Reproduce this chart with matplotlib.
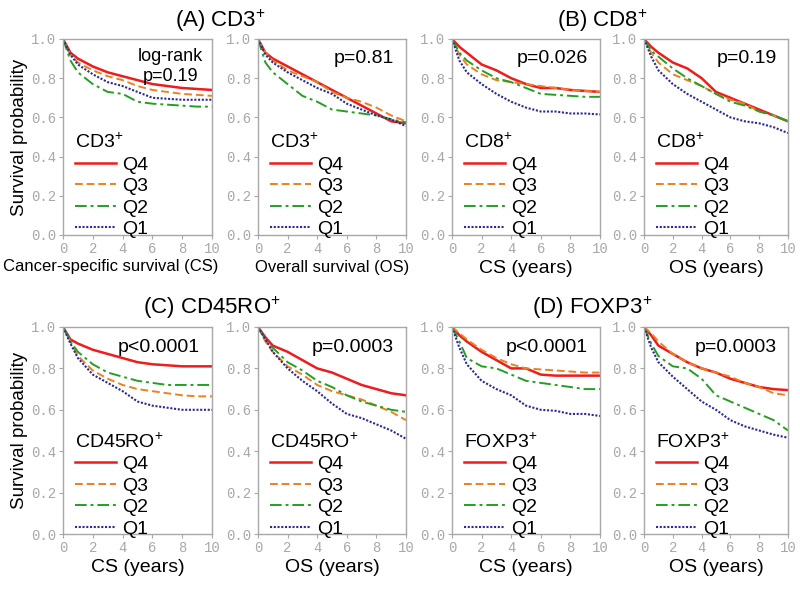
import matplotlib.pyplot as plt

plt.rcParams['font.family'] = ['Liberation Sans', 'DejaVu Sans']

# follow-up time points (years)
years = [0, 0.5, 1, 2, 3, 4, 5, 6, 7, 8, 9, 10]

# (A) CD3+ cancer-specific survival
a_cs_q4 = [1.0, 0.93, 0.90, 0.86, 0.83, 0.81, 0.79, 0.77, 0.76, 0.75, 0.745, 0.74]
a_cs_q3 = [1.0, 0.92, 0.88, 0.84, 0.81, 0.79, 0.76, 0.74, 0.73, 0.72, 0.715, 0.71]
a_cs_q2 = [1.0, 0.89, 0.83, 0.77, 0.73, 0.72, 0.68, 0.67, 0.665, 0.66, 0.655, 0.655]
a_cs_q1 = [1.0, 0.92, 0.87, 0.82, 0.78, 0.76, 0.73, 0.70, 0.695, 0.69, 0.69, 0.69]
# (A) CD3+ overall survival
a_os_q4 = [1.0, 0.93, 0.90, 0.86, 0.82, 0.78, 0.74, 0.70, 0.66, 0.62, 0.58, 0.57]
a_os_q3 = [1.0, 0.93, 0.89, 0.84, 0.81, 0.78, 0.73, 0.70, 0.68, 0.65, 0.61, 0.58]
a_os_q2 = [1.0, 0.88, 0.83, 0.77, 0.71, 0.68, 0.64, 0.63, 0.62, 0.61, 0.59, 0.575]
a_os_q1 = [1.0, 0.92, 0.88, 0.83, 0.79, 0.75, 0.72, 0.67, 0.64, 0.61, 0.59, 0.555]

# (B) CD8+
b_cs_q4 = [1.0, 0.96, 0.93, 0.87, 0.84, 0.80, 0.77, 0.75, 0.75, 0.74, 0.735, 0.73]
b_cs_q3 = [1.0, 0.92, 0.87, 0.82, 0.79, 0.78, 0.77, 0.76, 0.75, 0.74, 0.735, 0.73]
b_cs_q2 = [1.0, 0.93, 0.89, 0.84, 0.80, 0.78, 0.75, 0.72, 0.715, 0.71, 0.705, 0.705]
b_cs_q1 = [1.0, 0.89, 0.83, 0.77, 0.72, 0.68, 0.65, 0.63, 0.63, 0.62, 0.62, 0.615]
b_os_q4 = [1.0, 0.96, 0.93, 0.88, 0.85, 0.80, 0.73, 0.70, 0.67, 0.64, 0.61, 0.58]
b_os_q3 = [1.0, 0.93, 0.88, 0.82, 0.79, 0.76, 0.72, 0.69, 0.67, 0.63, 0.61, 0.58]
b_os_q2 = [1.0, 0.94, 0.91, 0.85, 0.80, 0.76, 0.72, 0.68, 0.66, 0.63, 0.61, 0.58]
b_os_q1 = [1.0, 0.91, 0.84, 0.77, 0.72, 0.68, 0.64, 0.60, 0.58, 0.57, 0.55, 0.52]

# (C) CD45RO+
c_cs_q4 = [1.0, 0.94, 0.92, 0.89, 0.87, 0.85, 0.83, 0.82, 0.815, 0.81, 0.81, 0.81]
c_cs_q3 = [1.0, 0.93, 0.86, 0.79, 0.75, 0.72, 0.70, 0.69, 0.68, 0.67, 0.665, 0.665]
c_cs_q2 = [1.0, 0.93, 0.88, 0.82, 0.78, 0.76, 0.74, 0.73, 0.72, 0.72, 0.72, 0.72]
c_cs_q1 = [1.0, 0.92, 0.85, 0.77, 0.73, 0.69, 0.64, 0.62, 0.61, 0.60, 0.60, 0.60]
c_os_q4 = [1.0, 0.95, 0.91, 0.88, 0.84, 0.80, 0.78, 0.75, 0.72, 0.70, 0.68, 0.67]
c_os_q3 = [1.0, 0.93, 0.88, 0.81, 0.77, 0.72, 0.69, 0.67, 0.65, 0.62, 0.59, 0.55]
c_os_q2 = [1.0, 0.94, 0.90, 0.83, 0.79, 0.74, 0.71, 0.67, 0.64, 0.62, 0.60, 0.59]
c_os_q1 = [1.0, 0.94, 0.88, 0.80, 0.74, 0.69, 0.63, 0.58, 0.56, 0.53, 0.50, 0.46]

# (D) FOXP3+
d_cs_q4 = [1.0, 0.96, 0.93, 0.88, 0.84, 0.80, 0.80, 0.77, 0.765, 0.765, 0.765, 0.765]
d_cs_q3 = [1.0, 0.97, 0.94, 0.89, 0.85, 0.82, 0.80, 0.795, 0.79, 0.785, 0.78, 0.78]
d_cs_q2 = [1.0, 0.93, 0.85, 0.81, 0.80, 0.77, 0.74, 0.73, 0.72, 0.71, 0.70, 0.70]
d_cs_q1 = [1.0, 0.90, 0.82, 0.74, 0.70, 0.67, 0.62, 0.60, 0.595, 0.58, 0.58, 0.57]
d_os_q4 = [1.0, 0.96, 0.91, 0.87, 0.83, 0.80, 0.78, 0.75, 0.73, 0.71, 0.70, 0.695]
d_os_q3 = [1.0, 0.97, 0.93, 0.87, 0.83, 0.80, 0.78, 0.76, 0.73, 0.71, 0.68, 0.67]
d_os_q2 = [1.0, 0.92, 0.86, 0.81, 0.80, 0.75, 0.67, 0.64, 0.61, 0.58, 0.55, 0.50]
d_os_q1 = [1.0, 0.90, 0.83, 0.76, 0.70, 0.64, 0.60, 0.55, 0.52, 0.50, 0.48, 0.465]

quartiles = ['Q4', 'Q3', 'Q2', 'Q1']
colors = ['#ee1c1c', '#ee8020', '#23a023', '#2a2a9a']
styles = ['-', (0, (4, 2)), (0, (6, 2, 1.5, 2)), (0, (1, 0.8))]
widths = [1.8, 1.4, 1.4, 1.5]

panels = [
    ([a_cs_q4, a_cs_q3, a_cs_q2, a_cs_q1], 'CD3$^{+}$', 'log-rank\np=0.19', 'Cancer-specific survival (CS)'),
    ([a_os_q4, a_os_q3, a_os_q2, a_os_q1], 'CD3$^{+}$', 'p=0.81', 'Overall survival (OS)'),
    ([b_cs_q4, b_cs_q3, b_cs_q2, b_cs_q1], 'CD8$^{+}$', 'p=0.026', 'CS (years)'),
    ([b_os_q4, b_os_q3, b_os_q2, b_os_q1], 'CD8$^{+}$', 'p=0.19', 'OS (years)'),
    ([c_cs_q4, c_cs_q3, c_cs_q2, c_cs_q1], 'CD45RO$^{+}$', 'p<0.0001', 'CS (years)'),
    ([c_os_q4, c_os_q3, c_os_q2, c_os_q1], 'CD45RO$^{+}$', 'p=0.0003', 'OS (years)'),
    ([d_cs_q4, d_cs_q3, d_cs_q2, d_cs_q1], 'FOXP3$^{+}$', 'p<0.0001', 'CS (years)'),
    ([d_os_q4, d_os_q3, d_os_q2, d_os_q1], 'FOXP3$^{+}$', 'p=0.0003', 'OS (years)'),
]

W, H = 800, 589
xs = [(63, 212), (258, 406), (452, 600), (644, 788)]
rows = [(39, 235), (327, 534)]

plt.rcParams['mathtext.fontset'] = 'custom'
plt.rcParams['mathtext.rm'] = 'Liberation Sans'

fig = plt.figure(figsize=(8, 5.89), dpi=100)
grey = '#a8a8a8'

for i, (curves, marker, ptext, xlab) in enumerate(panels):
    r, c = divmod(i, 4)
    x0, x1 = xs[c]
    y0, y1 = rows[r]
    ax = fig.add_axes([x0 / W, 1 - y1 / H, (x1 - x0) / W, (y1 - y0) / H])
    for vals, q, col, ls, lw in zip(curves, quartiles, colors, styles, widths):
        ax.plot(years, vals, color=col, linestyle=ls, linewidth=lw, label=q)
    ax.set_xlim(0, 10)
    ax.set_ylim(0, 1.0)
    ax.set_xticks(range(0, 11, 2))
    ax.set_yticks([0, 0.2, 0.4, 0.6, 0.8, 1.0])
    ax.set_yticklabels(['0.0', '0.2', '0.4', '0.6', '0.8', '1.0'])
    ax.tick_params(colors=grey, labelcolor=grey, length=3, width=0.8, pad=2,
                   labelsize=10)
    for lab in ax.get_xticklabels() + ax.get_yticklabels():
        lab.set_family('Liberation Mono')
    for sp in ax.spines.values():
        sp.set_color(grey)
        sp.set_linewidth(1.0)

    ax.legend(loc='lower left', title=marker, frameon=False, fontsize=14,
              title_fontsize=14, handlelength=2.1, handletextpad=0.3,
              labelspacing=0.2, borderaxespad=0, alignment='left',
              bbox_to_anchor=(0.03, -0.055))

    if i == 0:
        ax.text(0.72, 0.86, ptext, transform=ax.transAxes, ha='center',
                va='center', fontsize=13, linespacing=1.25)
    else:
        ax.text(0.92, 0.9, ptext, transform=ax.transAxes, ha='right',
                va='center', fontsize=14)

    if i < 2:
        ax.set_xlabel(xlab, fontsize=12, labelpad=3)
        if i == 0:
            ax.xaxis.set_label_coords(0.32, -0.125, transform=ax.transAxes)
            ax.xaxis.label.set_va('top')
    else:
        ax.set_xlabel(xlab, fontsize=14, labelpad=3)
    if c == 0:
        ax.set_ylabel('Survival probability', fontsize=13.5, labelpad=2)

fig.text(220 / W, 1 - 21 / H, '(A) CD3$^{+}$', ha='center', va='center', fontsize=16)
fig.text(602 / W, 1 - 21 / H, '(B) CD8$^{+}$', ha='center', va='center', fontsize=16)
fig.text(212 / W, 1 - 308 / H, '(C) CD45RO$^{+}$', ha='center', va='center', fontsize=16)
fig.text(592 / W, 1 - 308 / H, '(D) FOXP3$^{+}$', ha='center', va='center', fontsize=16)

fig.savefig('out.png', dpi=100)
